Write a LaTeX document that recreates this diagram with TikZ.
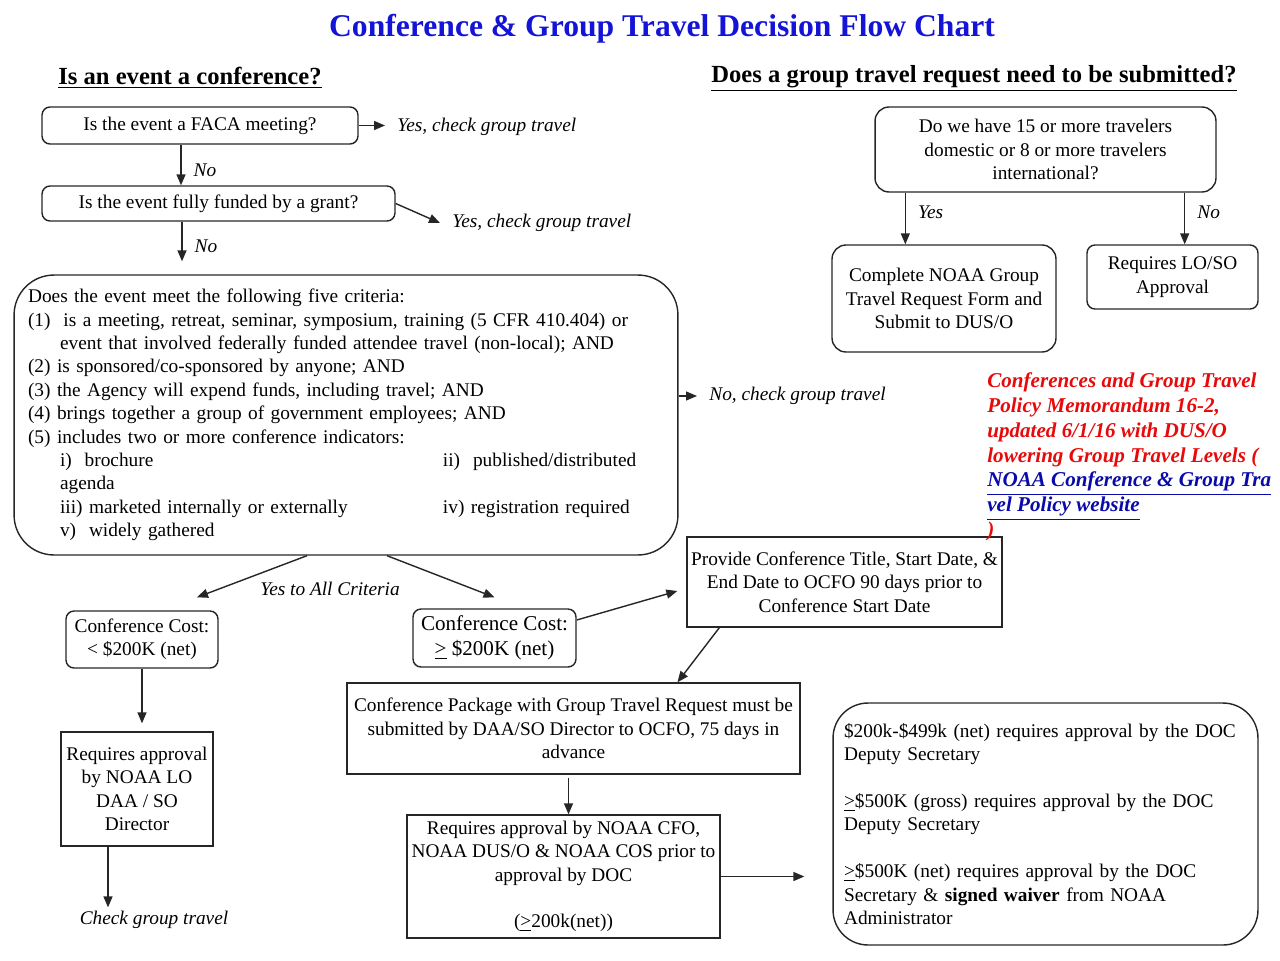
\documentclass[tikz,border=0pt]{standalone}
\usepackage{fontspec}
\usepackage{xcolor}
\setmainfont{Liberation Serif}
\newfontfamily\wideserif{Liberation Serif}
\usetikzlibrary{arrows.meta,positioning}
\definecolor{titleblue}{RGB}{20,20,215}
\definecolor{memored}{RGB}{230,10,10}
\definecolor{linkblue}{RGB}{10,10,170}
\newcommand\bodysize{\fontsize{11}{13.3}\selectfont}

\begin{document}
\begin{tikzpicture}[x=0.02cm, y=-0.02cm,
      box/.style={draw=black!85, line width=0.8pt, align=center, font=\bodysize, inner sep=2pt},
      rbox/.style={box, rounded corners=0.16cm},
      lbl/.style={font=\bodysize\itshape, inner xsep=0.24cm, inner ysep=1pt},
      edgelbl/.style={font=\bodysize\itshape, inner sep=2pt},
      sidelbl/.style={edgelbl, inner xsep=0.24cm},
      head/.style={font=\fontsize{14}{16}\selectfont\bfseries},
      ar/.style={-{Triangle[length=2.2mm,width=1.8mm]}, line width=0.8pt, draw=black!85}
    ]
    \useasboundingbox (0,0) rectangle (1280,960);
    % titles
    \node[font=\fontsize{18}{20}\selectfont\bfseries, text=titleblue] (title) at (662,29) {Conference \& Group Travel Decision Flow Chart};
    \node[head] (h1) at (190,78) {\underline{Is an event a conference?}};
    \node[head] (h2) at (974,78) {\underline{Does a group travel request need to be submitted?}};
    % conference test
    \node[rbox, minimum width=6.32cm, minimum height=0.74cm] (faca)  at (200,125.5) {Is the event a FACA meeting?};
    \node[rbox, minimum width=7.06cm, minimum height=0.70cm] (grant) at (218.5,203.5) {Is the event fully funded by a grant?};
    \node[lbl, anchor=west] (yes1) at (385,127) {Yes, check group travel};
    \node[lbl, anchor=west] (yes2) at (440,223) {Yes, check group travel};
    \node[box, rounded corners=0.8cm, minimum width=13.28cm, minimum height=5.6cm,
          text width=12.72cm, inner xsep=0.28cm, align=left] (crit) at (346,415) {%
      \rule{0pt}{0.2cm}Does the event meet the following five criteria:\\
      (1)\ \ is a meeting, retreat, seminar, symposium, training (5 CFR 410.404) or\\
      \hspace*{0.64cm}event that involved federally funded attendee travel (non-local); AND\\
      (2) is sponsored/co-sponsored by anyone; AND\\
      (3) the Agency will expend funds, including travel; AND\\
      (4) brings together a group of government employees; AND\\
      (5) includes two or more conference indicators:\\
      \hspace*{0.64cm}\makebox[7.66cm][l]{i)\ \ brochure}ii)\ \ published/distributed\\
      \hspace*{0.64cm}agenda\\
      \hspace*{0.64cm}\makebox[7.66cm][l]{iii) marketed internally or externally}iv) registration required\\
      \hspace*{0.64cm}v)\ \ widely gathered};
    \node[lbl, anchor=west] (nochk) at (697,396) {No, check group travel};
    \node[edgelbl] (yesall) at (330,589) {Yes to All Criteria};
    % cost branches
    \node[rbox, minimum width=3.04cm, minimum height=1.14cm] (cost1) at (142,639.5) {Conference Cost:\\< \$200K (net)};
    \node[rbox, minimum width=3.26cm, minimum height=1.16cm, font=\fontsize{12}{14.5}\selectfont] (cost2) at (494.5,638) {Conference Cost:\\\underline{>} \$200K (net)};
    \node[box, minimum width=3.04cm, minimum height=2.28cm] (lo) at (137,789) {Requires approval\\by NOAA LO\\DAA / SO\\Director};
    \node[edgelbl] (chk) at (154,920) {Check group travel};
    \node[box, minimum width=6.3cm, minimum height=1.8cm] (provide) at (844.5,582) {Provide Conference Title, Start Date, \&\\End Date to OCFO 90 days prior to\\Conference Start Date};
    \node[box, minimum width=9.06cm, minimum height=1.82cm] (pkg) at (573.5,728.5) {Conference Package with Group Travel Request must be\\submitted by DAA/SO Director to OCFO, 75 days in\\advance};
    \node[box, minimum width=6.26cm, minimum height=2.46cm] (cfo) at (563.5,876.5) {Requires approval by NOAA CFO,\\NOAA DUS/O \& NOAA COS prior to\\approval by DOC\\[13.3pt](\underline{>}200k(net))};
    \node[box, rounded corners=0.7cm, minimum width=8.5cm, minimum height=4.84cm, text width=8.06cm,
          inner xsep=0.22cm, align=left, font=\wideserif\bodysize] (doc) at (1045.5,824) {%
      \$200k-\$499k (net) requires approval by the DOC\\Deputy Secretary\\[13.3pt]
      \underline{>}\$500K (gross) requires approval by the DOC\\Deputy Secretary\\[13.3pt]
      \underline{>}\$500K (net) requires approval by the DOC\\Secretary \& \textbf{signed waiver} from NOAA\\Administrator};
    % group travel test
    \node[box, rounded corners=0.28cm, minimum width=6.82cm, minimum height=1.7cm] (q) at (1045.5,149.5) {Do we have 15 or more travelers\\domestic or 8 or more travelers\\international?};
    \node[box, rounded corners=0.28cm, minimum width=4.48cm, minimum height=2.14cm] (form) at (944,298.5) {Complete NOAA Group\\Travel Request Form and\\Submit to DUS/O};
    \node[rbox, minimum width=3.42cm, minimum height=1.28cm] (loso) at (1172.5,277) {Requires LO/SO\\Approval};
    \node[anchor=north west, align=left, inner sep=0pt, text=memored,
          font=\fontsize{12}{14.2}\selectfont\bfseries\itshape] (memo) at (987,372) {%
      Conferences and Group Travel\\Policy Memorandum 16-2,\\updated 6/1/16 with DUS/O\\lowering Group Travel Levels (\\
      {\color{linkblue}\underline{NOAA Conference \& Group Tra}}\\{\color{linkblue}\underline{vel Policy website}}\\)};
    % connectors
    \draw[ar] (faca.east) -- (faca.east -| yes1.west);
    \draw[ar] ([xshift=-0.38cm]faca.south) -- ([xshift=-0.38cm]faca.south |- grant.north) node[sidelbl, right, pos=0.62] {No};
    \draw[ar] (grant.east) -- (yes2.west);
    \draw[ar] ([xshift=-0.73cm]grant.south) -- ([xshift=-0.73cm,yshift=0.26cm]grant.south |- crit.north) node[sidelbl, right, pos=0.63] {No};
    \draw[ar] (crit.east |- nochk.west) -- (nochk.west);
    \draw[ar] ([xshift=-0.78cm]crit.south) -- ([xshift=1.1cm,yshift=0.26cm]cost1.north);
    \draw[ar] ([xshift=0.82cm]crit.south) -- ([yshift=0.22cm]cost2.north);
    \draw[ar, shorten >=0.16cm] (cost1.south) -- (cost1.south |- lo.north);
    \draw[ar] ([xshift=-0.58cm]lo.south) -- ([xshift=-0.58cm]lo.south |- chk.north);
    \draw[ar] ([yshift=0.36cm]cost2.east) -- ([xshift=-0.18cm,yshift=-0.18cm]provide.west);
    \draw[ar] ([xshift=0.66cm]provide.south west) -- ([xshift=2.08cm]pkg.north);
    \draw[ar] ([xshift=-0.1cm,yshift=-0.06cm]pkg.south) -- ([xshift=-0.1cm]pkg.south |- cfo.north);
    \draw[ar, shorten >=0.56cm] (cfo.east) -- (cfo.east -| doc.west);
    \draw[ar] ([xshift=0.62cm]q.south west) -- ([xshift=0.62cm]q.south west |- form.north) node[sidelbl, right, pos=0.37] {Yes};
    \draw[ar] ([xshift=-0.64cm]q.south east) -- ([xshift=-0.64cm]q.south east |- loso.north) node[sidelbl, right, pos=0.37] {No};
  \end{tikzpicture}
\end{document}
